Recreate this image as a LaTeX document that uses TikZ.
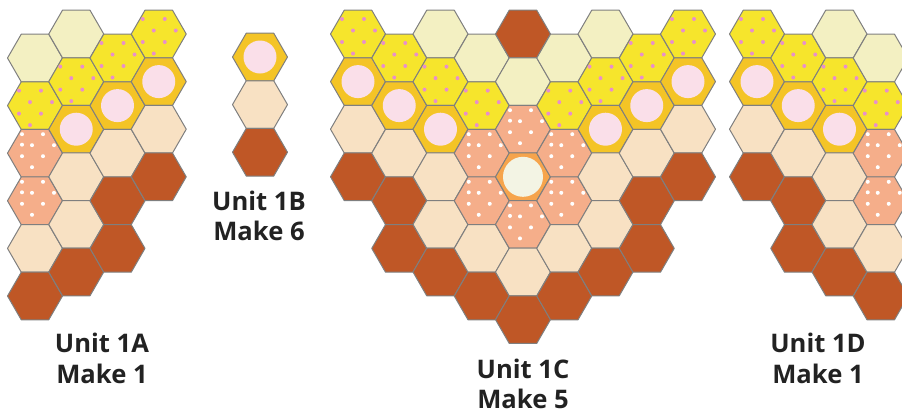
\documentclass[tikz,border=0pt]{standalone}
\usepackage{fontspec}
\setmainfont{Open Sans}
\usepackage{xcolor}
\definecolor{hxpale}{HTML}{F3F0C2}
\definecolor{hxlemon}{HTML}{F6E52C}
\definecolor{hxgold}{HTML}{F4C426}
\definecolor{hxblush}{HTML}{FADFE9}
\definecolor{hxpeach}{HTML}{F8E1C3}
\definecolor{hxsalmon}{HTML}{F5AE8A}
\definecolor{hxrust}{HTML}{BF5726}
\definecolor{hxorange}{HTML}{F6A44C}
\definecolor{hxcream}{HTML}{F3F4E4}
\definecolor{hxdot}{HTML}{E88FCB}
\definecolor{hxedge}{HTML}{7F7F7F}
\definecolor{hxink}{HTML}{222222}

\tikzset{
  hexedge/.style={draw=hxedge,line width=0.5pt,line join=round},
  lbl/.style={font=\fontsize{12.8}{15}\selectfont\bfseries,text=hxink,inner sep=0pt,anchor=base},
  pics/cell/.style={code={\draw[hexedge,fill=#1] (0:27.5) foreach \a in {60,120,...,300} {-- (\a:27.5)} -- cycle;}},
  pics/pale/.style={code={\pic {cell=hxpale};}},
  pics/peach/.style={code={\pic {cell=hxpeach};}},
  pics/rust/.style={code={\pic {cell=hxrust};}},
  pics/lemon/.style={code={\pic {cell=hxlemon};
      \foreach \dx/\dy in {-16/-15,6/-15,-5/-3.5,17/-3.5,-16/8,6/8,-5/19.5}
        \fill[hxdot] (\dx,\dy) circle (1pt);}},
  pics/salmon/.style={code={\pic {cell=hxsalmon};
      \foreach \dx/\dy in {-13/-19,8/-19,-3/-8,19/-8,-13/3,8/3,-3/14,-13/-8.5}
        \fill[white] (\dx,\dy) circle (1pt);}},
  pics/gold/.style={code={\pic {cell=hxgold};
      \fill[hxblush] (0,0) circle (8.25pt);}},
  pics/core/.style={code={\pic {cell=hxorange};
      \fill[hxcream] (0,0) circle (10pt);}},
}

\begin{document}
\begin{tikzpicture}[x=0.5pt,y=-0.5pt]
  \useasboundingbox (0,0) rectangle (902,414);
  % column: centre x / top centre y / cells from top to bottom
  \foreach \cx/\cy/\kinds in {
      % Unit 1A
      35/58/{pale,lemon,salmon,salmon,peach,rust},
      76.25/34/{pale,lemon,gold,peach,peach,rust},
      117.5/58/{lemon,gold,peach,rust,rust},
      158.75/34/{lemon,gold,peach,rust},
      % Unit 1B
      260/57/{gold,peach,rust},
      % Unit 1C
      358/34/{lemon,gold,peach,rust},
      399.25/58/{lemon,gold,peach,rust,rust},
      440.5/34/{pale,lemon,gold,peach,peach,rust},
      481.75/58/{pale,lemon,salmon,salmon,peach,rust},
      523/34/{rust,pale,salmon,core,salmon,peach,rust},
      564.25/58/{pale,lemon,salmon,salmon,peach,rust},
      605.5/34/{pale,lemon,gold,peach,peach,rust},
      646.75/58/{lemon,gold,peach,rust,rust},
      688/34/{lemon,gold,peach,rust},
      % Unit 1D
      757/34/{lemon,gold,peach,rust},
      798.25/58/{lemon,gold,peach,rust,rust},
      839.5/34/{pale,lemon,gold,peach,peach,rust},
      880.75/58/{pale,lemon,salmon,salmon,peach,rust}}
    {\foreach \k [count=\r from 0] in \kinds
      \pic at (\cx,\cy+47.6*\r) {\k};}

  % labels
  \node[lbl] (unitA) at (102,352) {Unit 1A};
  \node[lbl] (makeA) at (102,383) {Make 1};
  \node[lbl] (unitB) at (259,210) {Unit 1B};
  \node[lbl] (makeB) at (259,240) {Make 6};
  \node[lbl] (unitC) at (523,378) {Unit 1C};
  \node[lbl] (makeC) at (523,408) {Make 5};
  \node[lbl] (unitD) at (818,352) {Unit 1D};
  \node[lbl] (makeD) at (818,383) {Make 1};
\end{tikzpicture}
\end{document}
